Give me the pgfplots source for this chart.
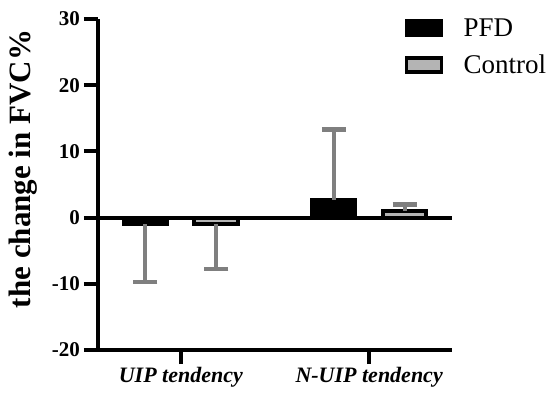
\documentclass[border=0pt]{standalone}
\usepackage{pgfplots}
\pgfplotsset{compat=1.18}
\usepackage{fontspec}
\setmainfont{Liberation Serif}

\definecolor{errgray}{HTML}{7F7F7F}
\definecolor{ctrlgray}{HTML}{B4B4B4}

\pgfplotsset{
  errstyle/.style={
    error bars/.cd, y explicit,
    error bar style={line width=4pt, errgray},
    error mark options={line width=4.5pt, errgray, mark size=12pt, rotate=90}},
}

\begin{document}
\begin{tikzpicture}
\begin{axis}[
  scale only axis,
  width=354pt, height=331pt,
  xmin=-0.44, xmax=1.44,
  ymin=-20, ymax=30,
  axis lines*=left,
  axis line style={line width=4.5pt, black},
  ytick={-20,-10,0,10,20,30},
  xtick={0,1},
  xticklabels={UIP tendency, N-UIP tendency},
  tick align=outside,
  major tick length=14pt,
  tick style={line width=4pt, black},
  /pgf/number format/assume math mode=true,
  yticklabel style={font=\bfseries\fontsize{21}{21}\selectfont, inner sep=4pt},
  xticklabel style={font=\bfseries\itshape\fontsize{22}{22}\selectfont, inner sep=3pt},
  ylabel={the change in FVC\%},
  ylabel style={font=\bfseries\fontsize{31}{31}\selectfont, at={(axis description cs:-0.212,0.547)}, anchor=center},
  ybar, bar width=0.232, bar shift=0pt,
  legend style={draw=none, fill=none, at={(rel axis cs:0.866,1.005)}, anchor=north west,
    font=\fontsize{27}{27}\selectfont, row sep=15pt, inner sep=0pt,
    nodes={inner sep=1pt}},
  legend cell align=left,
  legend image code/.code={%
    \draw[#1, line width=3.5pt] (0pt,-7pt) rectangle (35pt,7pt);
    \path[draw=none, fill=none] (0pt,0pt) rectangle (56pt,0pt);},
  clip=false,
]
% baseline at zero
\draw[line width=4pt, black] (axis cs:-0.44,0) -- (axis cs:1.44,0);

% UIP tendency: bars below zero, error bars downward
\addplot[fill=black, draw=black, line width=3.5pt, errstyle, y dir=minus]
  coordinates {(-0.188,-1.0) -= (0,8.7)};
\addlegendentry{PFD}
\addplot[fill=ctrlgray, draw=black, line width=4pt, errstyle, y dir=minus]
  coordinates {(0.188,-0.9) -= (0,6.9)};
\addlegendentry{Control}

% N-UIP tendency: bars above zero, error bars upward
\addplot[forget plot, fill=black, draw=black, line width=3.5pt, errstyle, y dir=plus]
  coordinates {(0.812,2.7) += (0,10.6)};
\addplot[forget plot, fill=ctrlgray, draw=black, line width=4pt, errstyle, y dir=plus]
  coordinates {(1.188,1.0) += (0,1.0)};
\end{axis}
\pgfresetboundingbox
\path (current axis.south west) ++(-98pt,-46pt) rectangle ++(556pt,396pt);
\end{tikzpicture}
\end{document}
